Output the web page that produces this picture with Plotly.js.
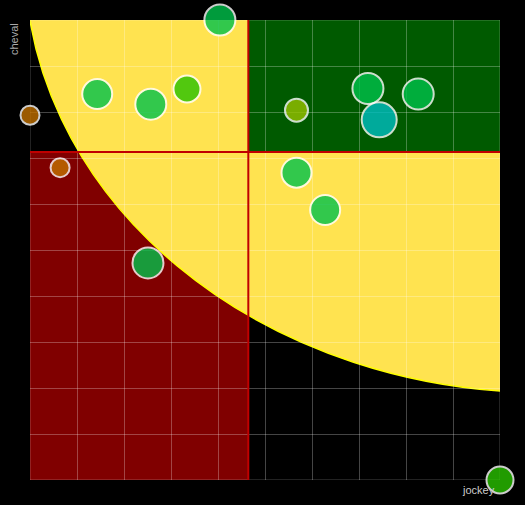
<!DOCTYPE html>
<html>
<head>
<meta charset="utf-8">
<script src="https://cdn.plot.ly/plotly-3.0.1.min.js"></script>
<style>
  html, body { margin: 0; padding: 0; background: #000; }
  #myDiv { width: 525px; height: 505px; }
</style>
</head>
<body>
<div id="myDiv"></div>
<script>
// values (axes run 0..10)
var jockey = [4.04, 1.43, 2.57, 3.34, 0, 0.64, 2.51, 5.67, 7.19, 8.26, 7.43, 5.67, 6.28, 10];
var cheval = [10, 8.39, 8.17, 8.5, 7.93, 6.79, 4.72, 8.04, 8.51, 8.39, 7.83, 6.68, 5.87, 0];
var sizes = [31, 30, 31, 27, 19, 19, 31, 23, 31, 31, 35, 30, 30, 27];
var colors = ['#00c24c', '#00c24c', '#00c24c', '#27c200', '#c27100', '#c27100', '#00c24c',
              '#98c200', '#00c24c', '#00c24c', '#00bec2', '#00c24c', '#00c24c', '#2ac200'];

function mean(a) {
    var s = 0;
    for (var i = 0; i < a.length; i++) s += a[i];
    return s / a.length;
}

var mx = mean(jockey);
var my = mean(cheval);
var gridCol = 'rgba(255,255,255,0.27)';

var trace1 = {
    x: jockey,
    y: cheval,
    mode: 'markers',
    type: 'scatter',
    cliponaxis: false,
    hoverinfo: 'x+y',
    marker: {
        size: sizes,
        color: colors,
        opacity: 0.8,
        line: {color: '#ffffff', width: 2}
    }
};

var axis = {
    range: [0, 10],
    dtick: 1,
    showticklabels: false,
    ticks: '',
    zeroline: false,
    showline: false,
    gridcolor: gridCol,
    gridwidth: 1,
    fixedrange: true
};

var layout = {
    width: 525,
    height: 505,
    margin: {l: 30, r: 25, t: 20, b: 25},
    paper_bgcolor: '#000000',
    plot_bgcolor: '#000000',
    showlegend: false,
    xaxis: axis,
    yaxis: Object.assign({}, axis),
    shapes: [
        // bottom-left quadrant
        {type: 'rect', layer: 'below', xref: 'x', yref: 'y', x0: 0, x1: mx, y0: 0, y1: my,
         fillcolor: '#800000', line: {width: 0}},
        // yellow zone
        {type: 'circle', layer: 'below', xref: 'x', yref: 'y', x0: -0.107, x1: 22.02, y0: 1.9, y1: 20.71,
         fillcolor: '#ffe350', line: {color: '#ffff00', width: 1.5}},
        // top-right quadrant
        {type: 'rect', layer: 'below', xref: 'x', yref: 'y', x0: mx, x1: 10, y0: my, y1: 10,
         fillcolor: '#005a00', line: {width: 0}},
        // outer grid lines (plotly skips the ones on the range ends)
        {type: 'rect', layer: 'between', xref: 'x', yref: 'y', x0: 0, x1: 10, y0: 0, y1: 10,
         line: {color: gridCol, width: 1}},
        // mean lines
        {type: 'line', layer: 'between', xref: 'x', yref: 'y', x0: mx, x1: mx, y0: 0, y1: 10,
         line: {color: '#c00000', width: 2}},
        {type: 'line', layer: 'between', xref: 'x', yref: 'y', x0: 0, x1: 10, y0: my, y1: my,
         line: {color: '#c00000', width: 2}}
    ],
    annotations: [
        {text: 'cheval', xref: 'paper', yref: 'paper', x: 0, y: 1, xanchor: 'right', yanchor: 'top',
         textangle: -90, xshift: -8, yshift: -1, showarrow: false,
         font: {family: 'Liberation Sans, Arial, sans-serif', size: 11, color: '#aaaaaa'}},
        {text: 'jockey', xref: 'paper', yref: 'paper', x: 1, y: 0, xanchor: 'right', yanchor: 'top',
         xshift: -3, yshift: -2, showarrow: false,
         font: {family: 'Liberation Sans, Arial, sans-serif', size: 11, color: '#cccccc'}}
    ]
};

Plotly.newPlot('myDiv', [trace1], layout, {displayModeBar: false, staticPlot: true});
</script>
</body>
</html>
